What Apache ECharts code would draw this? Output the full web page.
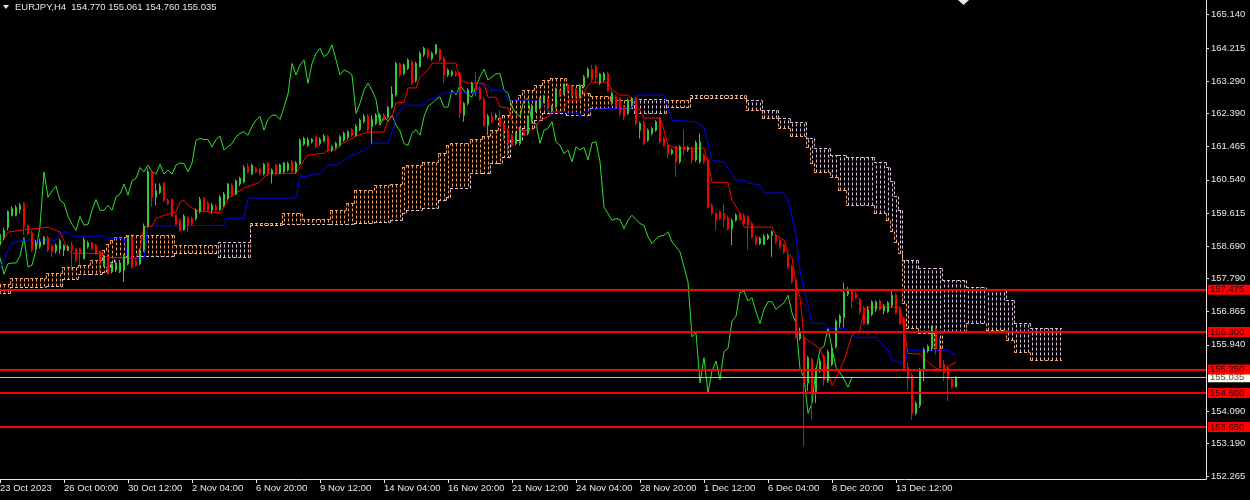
<!DOCTYPE html>
<html>
<head>
<meta charset="utf-8">
<title>EURJPY,H4</title>
<script src="https://cdn.jsdelivr.net/npm/echarts@6.0.0/dist/echarts.min.js"></script>
<style>
  html, body { margin: 0; padding: 0; background: #000; }
  #chart { width: 1250px; height: 500px; }
</style>
</head>
<body>
<div id="chart"></div>
<script>
// EURJPY H4 with Ichimoku, laid out like the terminal window

const opens = [
  158.72,158.93,159.21,159.55,159.55,159.71,159.88,159.25,159.06,158.65,
  158.67,158.74,158.93,158.69,158.56,158.60,158.58,158.58,158.72,158.61,
  158.61,158.34,158.67,158.78,158.72,158.55,158.16,158.41,157.97,158.02,
  157.97,158.02,158.20,158.93,158.27,158.20,158.58,159.25,160.76,160.05,
  160.18,160.44,159.97,159.99,159.55,159.41,159.15,159.49,159.46,159.46,
  159.65,160.02,159.89,159.69,159.80,159.71,159.83,160.02,160.39,160.14,
  160.42,160.48,160.90,160.70,160.85,160.83,160.70,161.01,160.70,160.95,
  160.73,160.76,160.81,161.04,160.76,160.99,161.53,161.50,161.60,161.74,
  161.55,161.62,161.74,161.37,161.44,161.50,161.64,161.72,161.94,161.78,
  161.94,162.16,162.31,162.02,162.11,162.16,162.34,162.28,162.56,162.90,
  163.77,163.50,163.64,163.83,163.30,163.69,164.02,164.16,163.92,164.06,
  164.17,163.92,163.46,163.46,163.52,163.50,162.34,162.67,162.99,163.23,
  163.09,162.76,162.06,162.30,162.28,162.28,162.09,161.92,161.76,161.55,
  161.55,161.88,161.83,162.22,162.48,162.56,162.71,162.81,162.48,162.57,
  163.02,162.95,163.18,163.13,163.04,162.85,163.13,163.41,163.62,163.69,
  163.23,163.32,163.50,162.70,162.85,162.81,162.57,162.39,162.62,162.81,
  161.92,162.13,161.64,161.83,161.92,162.25,161.69,161.50,161.27,161.46,
  161.04,161.46,161.37,161.41,161.09,161.04,161.23,161.09,159.83,159.60,
  159.65,159.60,159.49,159.18,159.41,159.60,159.55,159.51,159.32,158.95,
  158.76,158.74,158.90,158.99,158.99,158.85,158.72,158.44,158.11,157.74,
  156.12,156.14,154.88,155.53,154.60,155.21,155.63,154.93,155.39,155.88,
  156.56,156.70,157.35,157.44,157.36,157.21,156.96,156.53,156.79,156.93,
  157.16,156.88,156.86,157.04,157.33,156.93,156.68,155.31,155.09,154.03,
  154.25,155.23,155.77,155.84,156.38,155.84,155.39,155.30,154.98,154.770
];
const highs = [
  159.09,159.21,159.69,159.80,159.83,159.90,159.92,159.30,159.13,158.86,
  158.90,158.97,158.97,158.74,158.76,158.90,158.74,158.72,158.81,158.65,
  158.65,158.93,158.84,158.81,158.76,158.58,158.44,158.46,158.25,158.28,
  158.30,158.46,159.00,158.97,158.32,158.62,159.32,160.85,160.81,160.44,
  160.44,160.48,160.02,160.02,159.60,159.46,159.58,159.52,159.51,159.74,
  160.06,160.06,159.95,159.89,159.86,160.11,160.20,160.45,160.44,160.55,
  160.62,160.95,161.01,160.99,160.90,160.88,161.01,161.04,160.85,160.99,
  160.99,161.04,161.04,161.09,161.06,161.69,161.74,161.72,161.70,161.78,
  161.72,161.81,161.78,161.50,161.60,161.78,161.88,161.92,161.99,162.09,
  162.25,162.37,162.37,162.34,162.39,162.39,162.39,162.59,163.15,163.83,
  163.80,163.78,163.92,163.88,163.83,164.11,164.25,164.20,164.11,164.32,
  164.20,163.97,163.64,163.60,163.58,163.55,162.71,163.09,163.27,163.55,
  163.13,162.85,162.37,162.43,162.39,162.48,162.13,161.97,161.81,161.88,
  162.02,161.92,162.34,162.65,162.74,162.85,162.90,162.85,162.62,163.11,
  163.06,163.23,163.23,163.18,163.09,163.21,163.46,163.67,163.74,163.74,
  163.52,163.55,163.55,163.00,162.90,162.85,162.62,162.81,162.85,162.85,
  162.16,162.18,161.97,162.02,162.20,162.30,161.74,161.55,161.41,161.50,
  161.50,161.94,161.48,161.46,161.63,161.83,161.27,161.13,159.88,159.65,
  159.69,159.88,159.55,159.46,159.60,159.65,159.60,159.55,159.37,158.99,
  158.95,159.02,159.04,159.13,159.04,158.90,158.76,158.48,158.16,157.79,
  156.42,156.23,155.63,155.58,155.30,155.58,155.67,155.81,155.95,156.65,
  156.79,157.67,157.55,157.49,157.42,157.25,157.02,157.02,157.18,157.18,
  157.21,157.07,157.16,157.46,157.37,156.97,156.72,155.44,155.16,154.36,
  155.30,155.86,155.95,156.48,156.48,156.12,155.51,155.35,155.02,155.061
];
const lows = [
  158.67,158.86,159.13,159.52,159.52,159.60,159.00,159.00,158.53,158.58,
  158.62,158.72,158.53,158.39,158.48,158.48,158.41,158.55,158.02,158.25,
  158.16,158.32,158.62,158.58,158.44,157.97,158.11,157.88,157.93,157.97,
  157.94,157.69,158.16,158.06,158.11,158.16,158.53,159.21,159.79,159.83,
  160.14,159.92,159.83,159.51,159.27,159.09,159.12,159.09,159.25,159.41,
  159.60,159.64,159.64,159.60,159.64,159.67,159.78,159.97,160.06,160.11,
  160.36,160.44,160.72,160.67,160.72,160.66,160.66,160.64,160.44,160.66,
  160.70,160.73,160.77,160.72,160.72,160.95,161.48,161.46,161.55,161.41,
  161.50,161.59,161.32,161.32,161.40,161.46,161.60,161.66,161.74,161.74,
  161.90,162.11,161.88,161.55,162.06,162.11,162.18,162.24,162.52,162.85,
  163.41,163.45,163.60,163.18,163.25,163.67,163.97,163.92,163.86,164.02,
  163.83,163.24,163.41,163.41,163.41,162.25,162.16,162.62,162.95,162.85,
  162.74,162.02,161.78,162.11,162.22,162.02,161.64,161.23,161.46,161.50,
  161.50,161.74,161.78,162.16,162.43,162.50,162.67,162.50,162.43,162.53,
  162.85,162.90,162.97,162.85,162.81,162.81,163.09,163.37,163.27,163.23,
  163.18,163.27,163.00,162.62,162.53,162.30,162.20,162.34,162.57,162.06,
  161.69,161.50,161.60,161.78,161.88,161.55,161.46,161.13,161.23,160.62,
  160.99,161.23,161.32,160.99,161.04,160.99,160.99,159.74,159.55,159.13,
  159.41,159.23,159.13,158.72,159.37,159.39,159.27,158.58,158.90,158.72,
  158.72,158.71,158.86,158.39,158.76,158.62,158.48,158.06,157.65,156.11,
  156.06,153.11,154.65,153.86,154.32,155.16,154.79,154.88,155.35,155.84,
  156.42,156.42,157.30,156.96,157.21,156.79,156.49,156.49,156.74,156.86,
  156.88,156.79,156.83,156.97,156.79,156.49,155.20,154.67,153.84,153.98,
  154.18,154.93,155.72,155.77,155.67,155.26,154.93,154.37,154.72,154.760
];
const closes = [
  159.01,159.13,159.65,159.74,159.77,159.83,159.25,159.04,158.58,158.78,
  158.81,158.93,158.58,158.53,158.72,158.84,158.71,158.67,158.58,158.30,
  158.48,158.87,158.78,158.62,158.48,158.20,158.37,157.91,158.20,158.22,
  158.22,158.41,158.93,158.11,158.16,158.58,159.25,160.76,160.05,160.23,
  160.36,159.97,159.88,159.52,159.30,159.13,159.52,159.27,159.30,159.69,
  159.99,159.69,159.69,159.83,159.69,160.06,160.14,160.42,160.11,160.51,
  160.58,160.88,160.76,160.95,160.76,160.70,160.97,160.70,160.81,160.70,
  160.95,161.01,160.99,160.76,161.01,161.64,161.69,161.66,161.66,161.46,
  161.66,161.76,161.37,161.46,161.55,161.74,161.83,161.88,161.78,162.03,
  162.20,162.31,161.92,162.22,162.34,162.34,162.22,162.56,162.93,163.78,
  163.46,163.74,163.88,163.23,163.78,164.06,164.20,163.97,164.06,164.30,
  163.88,163.46,163.60,163.55,163.46,162.39,162.67,163.04,163.23,163.04,
  162.78,162.06,162.31,162.16,162.34,162.06,161.90,161.55,161.50,161.83,
  161.94,161.78,162.30,162.59,162.67,162.78,162.85,162.56,162.57,163.04,
  162.90,163.18,163.02,162.90,162.85,163.15,163.41,163.62,163.32,163.41,
  163.49,163.50,163.04,162.95,162.57,162.39,162.30,162.76,162.81,162.11,
  162.11,161.55,161.92,161.97,162.16,161.60,161.50,161.27,161.37,161.04,
  161.46,161.37,161.44,161.09,161.57,161.60,161.04,159.78,159.60,159.41,
  159.46,159.43,159.18,159.41,159.55,159.43,159.32,159.27,158.95,158.76,
  158.90,158.97,158.99,159.09,158.81,158.67,158.53,158.11,157.69,156.16,
  156.28,154.88,155.58,154.60,155.21,155.49,154.97,155.75,155.84,156.60,
  156.74,157.39,157.44,157.16,157.25,156.86,156.53,156.93,157.14,157.14,
  156.93,157.02,157.11,157.32,156.83,156.53,155.27,155.03,154.03,154.31,
  155.25,155.81,155.90,156.40,155.84,155.31,155.16,154.98,154.76,155.035
];

// tenkan-sen / kijun-sen as [bar, price]
const tenkan = [
  [0,158.72],[2,159.08],[5,159.13],[12,159.22],[14,159.13],[15,159.08],[17,158.58],[18,158.49],
  [25,158.49],[27,158.38],[34,158.35],[35,158.63],[36,159.22],[38,159.25],[39,159.47],[41,159.55],
  [44,159.64],[45,159.92],[46,159.97],[47,159.83],[49,159.69],[55,159.61],[56,159.77],[57,160.03],
  [59,160.17],[61,160.31],[65,160.47],[66,160.61],[67,160.72],[74,160.72],[75,160.89],[76,161.09],
  [77,161.23],[81,161.28],[82,161.37],[84,161.37],[85,161.51],[87,161.64],[89,161.76],[92,161.87],
  [96,161.87],[97,162.20],[98,162.29],[99,162.68],[101,162.70],[102,163.10],[104,163.10],[105,163.40],
  [107,163.60],[108,163.79],[114,163.79],[115,163.32],[117,163.23],[121,163.23],[122,162.84],[124,162.84],
  [125,162.57],[127,162.54],[128,162.20],[130,161.92],[133,161.92],[134,162.01],[135,162.20],[137,162.29],
  [138,162.43],[140,162.43],[141,162.54],[142,162.76],[145,162.76],[146,162.96],[147,163.18],[148,163.26],
  [152,163.26],[153,163.04],[155,162.90],[157,162.90],[158,162.76],[160,162.48],[161,162.26],[165,162.26],
  [166,161.92],[167,161.51],[169,161.42],[176,161.42],[177,161.00],[178,160.47],[182,160.47],[183,159.97],
  [185,159.61],[186,159.22],[193,159.22],[194,158.99],[196,158.86],[197,158.49],[198,158.38],[199,157.63],
  [200,157.26],[201,156.15],[203,155.98],[205,155.84],[206,155.51],[207,155.15],[208,154.81],[209,155.01],
  [211,155.51],[213,156.21],[214,156.29],[215,156.35],[216,156.90],[217,156.99],[225,156.99],[226,156.35],
  [227,155.70],[230,155.68],[232,155.45],[234,155.28],[236,155.23],[237,155.34],[239,155.45]
];
const kijun = [
  [0,158.07],[2,158.58],[3,158.77],[6,158.86],[14,158.86],[15,159.08],[17,159.08],[18,158.97],
  [26,158.97],[27,158.91],[31,158.91],[32,158.35],[36,158.35],[37,159.25],[56,159.27],[57,159.47],
  [61,159.47],[62,160.03],[74,160.03],[75,160.61],[78,160.67],[80,160.72],[81,160.81],[82,160.95],
  [84,160.95],[85,161.00],[87,161.17],[90,161.31],[92,161.42],[93,161.56],[97,161.56],[98,161.87],
  [99,162.26],[100,162.43],[101,162.62],[106,162.62],[107,162.76],[109,162.84],[111,162.96],[119,162.96],
  [120,163.18],[122,163.18],[123,163.04],[126,163.04],[127,162.76],[135,162.76],[136,162.57],[137,162.43],
  [144,162.43],[145,162.29],[146,162.43],[148,162.51],[158,162.54],[159,162.90],[166,162.90],[168,162.20],
  [174,162.15],[176,162.01],[178,161.09],[181,161.03],[184,160.53],[186,160.53],[187,160.45],[190,160.39],
  [191,160.17],[196,160.17],[197,159.97],[198,159.55],[199,158.94],[200,158.02],[201,157.46],[202,157.04],
  [203,156.54],[206,156.54],[207,156.40],[211,156.40],[212,156.29],[214,156.15],[219,156.15],[222,155.79],
  [223,155.51],[226,155.42],[227,155.79],[237,155.79],[238,155.68],[239,155.68]
];

// kumo: runs of bars where senkou A / B stay flat
const cloudFrom = [0,3,12,16,20,23,26,27,28,29,32,44,55,63,71,76,83,87,89,94,98,101,102,106,110,112,113,118,121,123,125,126,128,130,131,134,136,138,142,146,148,153,159,167,173,187,191,195,198,202,203,204,208,210,212,219,222,223,224,225,226,227,230,234,236,242,247,252,254,258];
const cloudTo   = [2,11,15,19,22,25,26,27,28,31,43,54,62,70,75,82,86,88,93,97,100,101,105,109,111,112,117,120,122,124,125,127,129,130,133,135,137,141,145,147,152,158,166,172,186,190,194,197,201,202,203,207,209,211,218,221,222,223,224,225,226,229,233,235,241,246,251,253,257,265];
const spanA = [157.63,157.80,157.94,158.10,158.16,158.30,158.58,158.75,158.86,158.94,159.00,158.72,158.38,159.33,159.61,159.44,159.69,159.89,160.25,160.39,160.42,160.89,160.95,161.03,161.28,161.51,161.56,161.67,161.76,161.92,162.26,162.34,162.76,162.90,163.04,163.18,163.32,163.37,163.18,162.96,162.87,162.76,162.40,162.76,162.90,162.48,162.26,161.98,161.76,161.45,161.00,160.75,160.61,160.25,159.85,159.61,159.41,159.10,158.80,158.50,157.10,156.40,156.26,155.85,156.30,156.54,156.35,156.07,155.73,155.51];
const spanB = [157.38,157.54,157.57,157.77,157.91,157.91,157.96,158.10,158.24,158.38,158.41,158.49,158.80,159.28,159.30,159.30,159.30,159.30,159.33,159.36,159.41,159.61,159.69,159.75,159.97,160.05,160.31,160.72,160.72,161.00,161.00,161.17,161.64,161.64,161.98,162.20,162.40,162.40,162.34,162.34,162.55,162.54,162.79,162.57,162.82,162.76,162.48,162.26,162.15,161.70,161.70,161.42,161.23,161.23,161.17,161.03,160.89,160.50,160.10,159.69,158.30,158.30,158.07,158.07,157.74,157.54,157.46,157.18,156.54,156.40];

const chikouShift = 26;
const levels = [157.475, 156.300, 155.250, 154.600, 153.650];
const lastPrice = 155.035;

const priceTicks = [165.140, 164.215, 163.290, 162.390, 161.465, 160.540, 159.615, 158.690, 157.790, 156.865, 155.940, 154.090, 153.190, 152.265];
const timeTicks = [0, 16, 32, 48, 64, 80, 96, 112, 128, 144, 160, 176, 192, 208, 224];
const timeLabels = ['23 Oct 2023', '26 Oct 00:00', '30 Oct 12:00', '2 Nov 04:00', '6 Nov 20:00', '9 Nov 12:00', '14 Nov 04:00', '16 Nov 20:00', '21 Nov 12:00', '24 Nov 04:00', '28 Nov 20:00', '1 Dec 12:00', '6 Dec 04:00', '8 Dec 20:00', '13 Dec 12:00'];

const bull = '#32cd32';
const bear = '#ff0000';
const sandy = '#f4a460';
const thistle = '#d8bfd8';
const textColor = '#e8e8e8';
const font = '"Liberation Sans", Arial, sans-serif';
const xMax = 301.5;

const chartDom = document.getElementById('chart');
let chart = echarts.init(chartDom);

const candleRows = opens.map((o, i) => [i, o, closes[i], lows[i], highs[i]]);
const chikou = closes.slice(chikouShift).map((c, i) => [i, c]);
const cloudRows = cloudFrom.map((f, i) => [f, cloudTo[i], spanA[i], spanB[i]]);

function px(v) {
    return Math.round(v) + 0.5;
}

function dashLine(x1, y1, x2, y2, color) {
    return {
        type: 'line',
        shape: { x1: x1, y1: y1, x2: x2, y2: y2 },
        style: { stroke: color, lineWidth: 1, lineDash: [3, 2] }
    };
}

function renderCloud(params, api) {
    const idx = params.dataIndex;
    const from = api.value(0);
    const to = api.value(1);
    const a = api.value(2);
    const b = api.value(3);
    const yA = px(api.coord([from, a])[1]);
    const yB = px(api.coord([from, b])[1]);
    const hatch = a >= b ? sandy : thistle;
    const children = [];

    for (let k = from; k <= to; k++) {
        const x = px(api.coord([k, a])[0]);
        children.push(dashLine(x, yA, x, yB, hatch));
    }

    const xs = api.coord([from - 0.5, a])[0];
    const xe = api.coord([to + 0.5, a])[0];
    children.push(dashLine(xs, yA, xe, yA, sandy));
    children.push(dashLine(xs, yB, xe, yB, thistle));

    // step between this run and the previous one
    if (idx > 0 && cloudTo[idx - 1] === from - 1) {
        const pa = px(api.coord([from, spanA[idx - 1]])[1]);
        const pb = px(api.coord([from, spanB[idx - 1]])[1]);
        const xv = px(xs);
        children.push(dashLine(xv, pa, xv, yA, sandy));
        children.push(dashLine(xv, pb, xv, yB, thistle));
    }

    return { type: 'group', children: children };
}

// a full-width horizontal line with its price box on the scale
function levelLine(v) {
    return [{ coord: [0, v], value: v }, { coord: [xMax, v], value: v }];
}

const boxLabel = {
    position: 'end',
    distance: 2,
    padding: [0, 6, 0, 2],
    lineHeight: 10,
    fontSize: 9.5,
    fontFamily: font
};

let option = {
    backgroundColor: '#000000',
    animation: false,
    grid: { left: 0, right: 44, top: 0, bottom: 21, containLabel: false, outerBoundsMode: 'none' },
    xAxis: {
        type: 'value',
        min: 0,
        max: xMax,
        axisLine: { show: true, onZero: false, lineStyle: { color: textColor, width: 1 } },
        axisTick: { show: true, length: 4, customValues: timeTicks, lineStyle: { color: textColor } },
        axisLabel: {
            customValues: timeTicks,
            formatter: function (v) {
                return timeLabels[timeTicks.indexOf(v)];
            },
            align: 'left',
            color: textColor,
            fontSize: 9.5,
            fontFamily: font,
            margin: 4,
            hideOverlap: false
        },
        splitLine: { show: false }
    },
    yAxis: {
        type: 'value',
        position: 'right',
        min: 152.20,
        max: 165.55,
        axisLine: { show: true, onZero: false, lineStyle: { color: textColor, width: 1 } },
        axisTick: { show: true, length: 3, customValues: priceTicks, lineStyle: { color: textColor } },
        axisLabel: {
            customValues: priceTicks,
            formatter: function (v) {
                return v.toFixed(3);
            },
            color: textColor,
            fontSize: 9.5,
            fontFamily: font,
            margin: 5
        },
        splitLine: { show: false }
    },
    graphic: [
        {
            type: 'polygon',
            shape: { points: [[3, 5], [9, 5], [6, 9]] },
            style: { fill: textColor }
        },
        {
            type: 'text',
            left: 15,
            top: 2,
            style: {
                text: 'EURJPY,H4  154.770 155.061 154.760 155.035',
                fill: textColor,
                font: '9.5px ' + font
            }
        },
        {
            type: 'polygon',
            shape: { points: [[958, 0], [969, 0], [963.5, 5]] },
            style: { fill: textColor }
        }
    ],
    series: [
        {
            name: 'Kumo',
            type: 'custom',
            renderItem: renderCloud,
            data: cloudRows,
            encode: { x: [0, 1], y: [2, 3] },
            silent: true,
            z: 1
        },
        {
            name: 'Chikou',
            type: 'line',
            data: chikou,
            showSymbol: false,
            silent: true,
            lineStyle: { color: '#2ee02e', width: 1 },
            z: 2,
            markLine: {
                symbol: 'none',
                silent: true,
                z: 8,
                lineStyle: { color: '#c0c0c0', width: 1, type: 'solid' },
                label: Object.assign({}, boxLabel, {
                    formatter: function () {
                        return lastPrice.toFixed(3);
                    },
                    color: '#505050',
                    backgroundColor: '#fffff0'
                }),
                data: [levelLine(lastPrice)]
            }
        },
        {
            name: 'Kijun',
            type: 'line',
            data: kijun,
            showSymbol: false,
            silent: true,
            lineStyle: { color: '#0000ff', width: 1 },
            z: 3
        },
        {
            name: 'Tenkan',
            type: 'line',
            data: tenkan,
            showSymbol: false,
            silent: true,
            lineStyle: { color: '#ff0000', width: 1 },
            z: 3
        },
        {
            name: 'EURJPY',
            type: 'candlestick',
            data: candleRows,
            encode: { x: 0, y: [1, 2, 3, 4] },
            barWidth: 2,
            silent: true,
            itemStyle: {
                color: bull,
                color0: bear,
                borderColor: bull,
                borderColor0: bear,
                borderWidth: 1
            },
            z: 4,
            markLine: {
                symbol: 'none',
                silent: true,
                z: 10,
                lineStyle: { color: '#ff0000', width: 2, type: 'solid' },
                label: Object.assign({}, boxLabel, {
                    formatter: function (p) {
                        return levels[p.dataIndex].toFixed(3);
                    },
                    color: '#2a0000',
                    backgroundColor: '#ff0000'
                }),
                data: levels.map(levelLine)
            }
        }
    ]
};

option && chart.setOption(option);
</script>
</body>
</html>
